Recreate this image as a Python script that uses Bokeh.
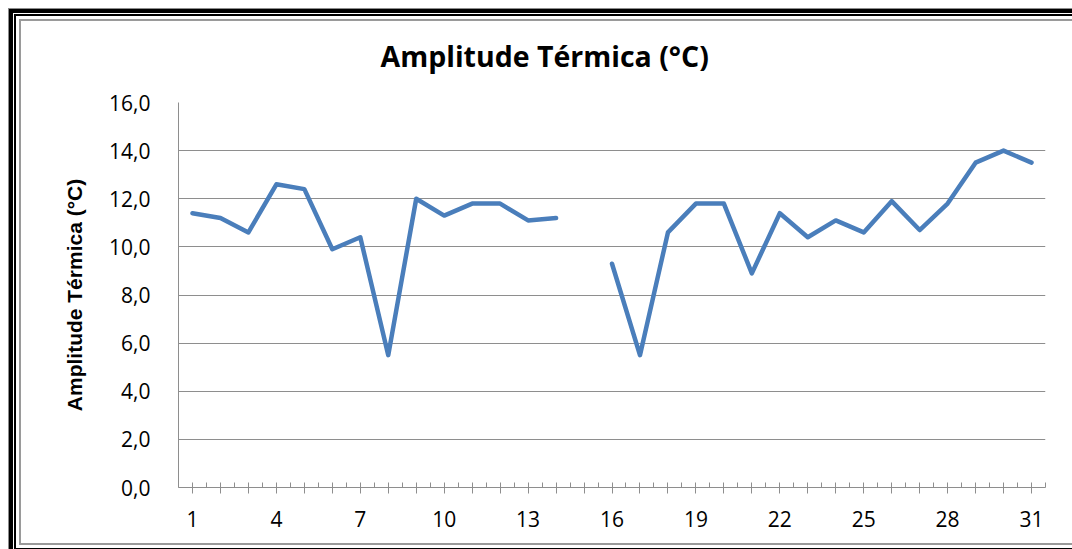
from bokeh.plotting import figure
from bokeh.models import FixedTicker, InlineStyleSheet
from bokeh.embed import file_html
from bokeh.resources import INLINE

# ---- data ----
days = list(range(1, 32))
amplitude = [11.4, 11.2, 10.6, 12.6, 12.4, 9.9, 10.4, 5.5, 12.0, 11.3,
             11.8, 11.8, 11.1, 11.2, float("nan"), 9.3, 5.5, 10.6, 11.8, 11.8,
             8.9, 11.4, 10.4, 11.1, 10.6, 11.9, 10.7, 11.8, 13.5, 14.0, 13.5]
x_label_days = [1, 4, 7, 10, 13, 16, 19, 22, 25, 28, 31]
y_ticks = [0, 2, 4, 6, 8, 10, 12, 14, 16]
y_tick_labels = ["0,0", "2,0", "4,0", "6,0", "8,0", "10,0", "12,0", "14,0", "16,0"]
title_text = "Amplitude Térmica (°C)"
y_axis_title = "Amplitude Térmica (°C)"

GRID = "#8e8e8e"

p = figure(width=1072, height=549, x_range=(0.5, 31.5), y_range=(0, 16),
           output_backend="svg", toolbar_location=None, title=title_text,
           min_border_left=178, min_border_right=27, min_border_top=102,
           min_border_bottom=62)

p.line(days, amplitude, line_color="#4a7ebb", line_width=4.5,
       line_join="round", line_cap="round")

# title
p.title.align = "left"
p.title.offset = 202
p.title.text_font = "Open Sans"
p.title.text_font_size = "28.5px"
p.title.text_font_style = "bold"
p.title.text_color = "#000000"
p.title.standoff = 56

# x axis
xa = p.xaxis[0]
xa.ticker = FixedTicker(ticks=days, minor_ticks=[d - 0.5 for d in days] + [31.5])
xa.major_label_overrides = {d: (str(d) if d in x_label_days else "") for d in days}
xa.axis_line_color = GRID
xa.major_tick_line_color = GRID
xa.minor_tick_line_color = GRID
xa.major_tick_in = 5
xa.major_tick_out = 6
xa.minor_tick_in = 5
xa.minor_tick_out = 0
xa.major_label_text_font = "Open Sans"
xa.major_label_text_font_size = "21px"
xa.major_label_text_color = "#000000"
xa.major_label_standoff = 17

# y axis
ya = p.yaxis[0]
ya.ticker = FixedTicker(ticks=y_ticks)
ya.major_label_overrides = {t: l for t, l in zip(y_ticks, y_tick_labels)}
ya.axis_line_color = GRID
ya.major_tick_line_color = None
ya.minor_tick_line_color = None
ya.major_tick_in = 0
ya.major_tick_out = 0
ya.major_label_standoff = 28
ya.major_label_text_font = "Open Sans"
ya.major_label_text_font_size = "21px"
ya.major_label_text_color = "#000000"
ya.axis_label = y_axis_title
ya.axis_label_text_font = "Liberation Sans"
ya.axis_label_text_font_size = "21px"
ya.axis_label_text_font_style = "bold"
ya.axis_label_text_color = "#000000"
ya.axis_label_standoff = 20

p.xgrid.grid_line_color = None
p.ygrid.ticker = FixedTicker(ticks=y_ticks)
p.ygrid.grid_line_color = GRID
p.outline_line_color = None
p.background_fill_color = "white"
p.border_fill_color = "white"

css = """
:host { position: relative; overflow: hidden; }
:host::after {
  content: ""; position: absolute; left: 8px; top: 8px; width: 1100px; height: 548px;
  pointer-events: none; z-index: 10;
  box-shadow: inset 0 0 0 1px #8c8c8c, inset 0 0 0 5px #000, inset 0 0 0 6px #fff,
              inset 0 0 0 8px #000, inset 0 0 0 11px #fff, inset 0 0 0 13px #9a9a9a;
}
"""
p.stylesheets = [InlineStyleSheet(css=css)]

open("out.html", "w").write(file_html(p, INLINE))
